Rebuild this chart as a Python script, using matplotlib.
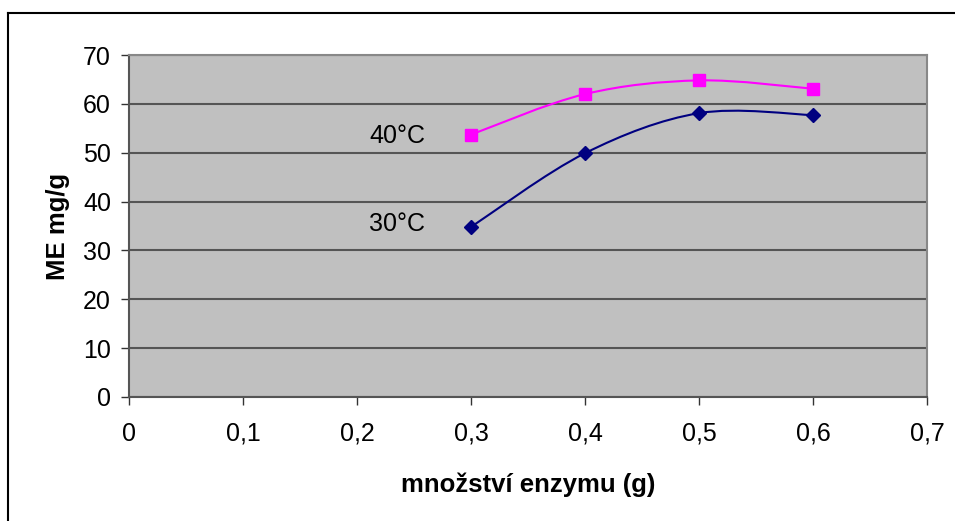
import numpy as np
import matplotlib.pyplot as plt
from matplotlib.path import Path
from matplotlib.patches import PathPatch
from matplotlib.lines import Line2D

plt.rcParams['font.family'] = ['Liberation Sans', 'DejaVu Sans']

# data
enzym = [0.3, 0.4, 0.5, 0.6]
me_30 = [34.8, 49.9, 58.1, 57.7]
me_40 = [53.7, 62.0, 64.8, 63.1]
xticks = [0, 0.1, 0.2, 0.3, 0.4, 0.5, 0.6, 0.7]
yticks = [0, 10, 20, 30, 40, 50, 60, 70]


def smooth_path(ax, xs, ys):
    # Excel-like smoothed line: cubic Bezier with Catmull-Rom tangents,
    # built in display space so the curvature matches the screen
    pts = ax.transData.transform(np.column_stack([xs, ys]))
    n = len(pts)
    verts = [pts[0]]
    codes = [Path.MOVETO]
    for i in range(n - 1):
        p0 = pts[i - 1] if i > 0 else pts[i]
        p1 = pts[i]
        p2 = pts[i + 1]
        p3 = pts[i + 2] if i + 2 < n else pts[i + 1]
        c1 = p1 + (p2 - p0) / 6.0
        c2 = p2 - (p3 - p1) / 6.0
        verts += [c1, c2, p2]
        codes += [Path.CURVE4] * 3
    return Path(verts, codes)


fig = plt.figure(figsize=(9.55, 5.21), dpi=100)
ax = fig.add_axes([129 / 955, 1 - 397 / 521, (927 - 129) / 955, (397 - 55) / 521])
ax.set_facecolor('#c0c0c0')
ax.set_xlim(0, 0.7)
ax.set_ylim(0, 70)
ax.set_xticks(xticks)
ax.set_yticks(yticks)
ax.set_xticklabels([('%g' % v).replace('.', ',') for v in xticks])
ax.tick_params(labelsize=18, length=6, width=1, color='#333333', direction='out')
ax.tick_params(axis='x', pad=12)
ax.tick_params(axis='y', pad=7)
ax.yaxis.grid(True, color='#555555', linewidth=1.5)
ax.set_axisbelow(True)
for s in ['left', 'bottom']:
    ax.spines[s].set_color('#555555')
    ax.spines[s].set_linewidth(1.5)
for s in ['top', 'right']:
    ax.spines[s].set_color('#888888')
    ax.spines[s].set_linewidth(1.5)

fig.canvas.draw()
for ys, col, mk, ms in [(me_40, '#ff00ff', 's', 8), (me_30, '#000080', 'D', 7)]:
    p = smooth_path(ax, enzym, ys)
    ax.add_patch(PathPatch(p, facecolor='none', edgecolor=col, lw=1.5,
                           transform=None, zorder=3))
    ax.plot(enzym, ys, linestyle='none', marker=mk, markersize=ms,
            color=col, zorder=4)

ax.text(0.2105, 53.4, '40°C', fontsize=18, va='center', ha='left')
ax.text(0.2105, 35.4, '30°C', fontsize=18, va='center', ha='left')

ax.set_xlabel('množství enzymu (g)', fontsize=18.5, fontweight='bold', labelpad=19)
ax.set_ylabel('ME mg/g', fontsize=18.5, fontweight='bold', labelpad=9)

# outer chart frame (only top and left edges visible)
fig.add_artist(Line2D([8 / 955, 1], [1 - 13 / 521, 1 - 13 / 521],
                      transform=fig.transFigure, color='black', lw=1.5))
fig.add_artist(Line2D([8 / 955, 8 / 955], [0, 1 - 13 / 521],
                      transform=fig.transFigure, color='black', lw=1.5))

fig.savefig('out.png', dpi=100)
